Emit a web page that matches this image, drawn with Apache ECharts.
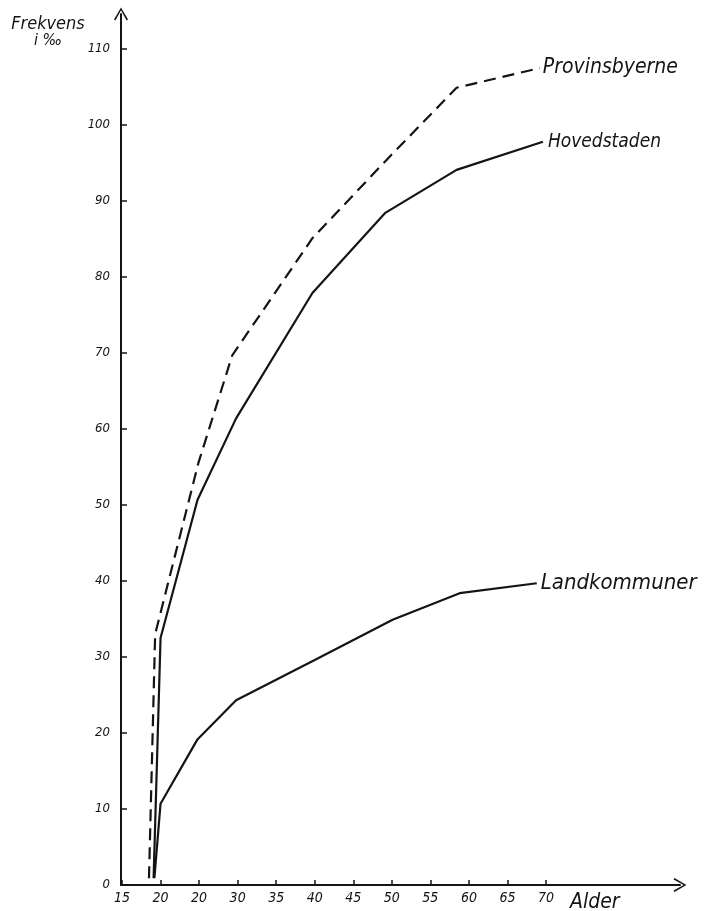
<!DOCTYPE html>
<html>
<head>
<meta charset="utf-8">
<script src="https://cdn.jsdelivr.net/npm/echarts@6/dist/echarts.min.js"></script>
<style>
  html, body { margin: 0; padding: 0; background: #ffffff; }
  #chart { width: 709px; height: 911px; }
</style>
</head>
<body>
<div id="chart"></div>
<script>
// Age (years) and frequency (per mille)
const provinsbyerne = [[18.5, 0.9], [19.3, 33.0], [24.9, 55.5], [29.3, 69.7], [39.7, 85.1], [49.5, 95.6], [58.4, 104.9], [69.2, 107.5]];
const hovedstaden   = [[19.1, 0.9], [20.0, 32.5], [24.8, 50.7], [29.8, 61.4], [39.7, 77.9], [49.1, 88.4], [58.4, 94.1], [69.6, 97.8]];
const landkommuner  = [[19.2, 0.9], [20.0, 10.7], [24.75, 19.1], [29.8, 24.3], [40.0, 29.6], [50.1, 34.9], [58.8, 38.4], [68.8, 39.7]];

const xTickLabels = ['15', '20', '20', '30', '35', '40', '45', '50', '55', '60', '65', '70'];
const yTickLabels = ['0', '10', '20', '30', '40', '50', '60', '70', '80', '90', '100', '110'];

const FONT = "'DejaVu Sans Condensed', 'DejaVu Sans', sans-serif";
const INK = '#141414';
const chevron = 'path://M0,12 L7,0 L14,12 L12.6,12.9 L7,2.8 L1.4,12.9 Z';

const chart = echarts.init(document.getElementById('chart'), null, { renderer: 'canvas' });

function seriesOf(name, data, dashed, dist, size) {
  return {
    name: name,
    type: 'line',
    xAxisIndex: 0,
    yAxisIndex: 0,
    data: data,
    symbol: 'none',
    clip: false,
    silent: true,
    lineStyle: { color: INK, width: 2.2, type: dashed ? [12, 7] : 'solid' },
    endLabel: {
      show: true,
      formatter: name,
      distance: dist,
      color: INK,
      fontFamily: FONT,
      fontStyle: 'italic',
      fontSize: size
    }
  };
}

chart.setOption({
  backgroundColor: '#ffffff',
  animation: false,
  title: {
    text: 'Frekvens',
    subtext: 'i ‰',
    left: 43,
    top: 10,
    textAlign: 'center',
    itemGap: 0,
    textStyle: { fontFamily: FONT, fontStyle: 'italic', fontWeight: 'normal', fontSize: 18, color: INK },
    subtextStyle: { fontFamily: FONT, fontStyle: 'italic', fontSize: 16, color: INK }
  },
  grid: [
    { left: 122, right: 163, top: 49, bottom: 26, outerBoundsMode: 'none', containLabel: false },
    { left: 121, right: 29, top: 14, bottom: 26, outerBoundsMode: 'none', containLabel: false }
  ],
  xAxis: [
    {
      gridIndex: 0,
      type: 'value',
      min: 15, max: 70, interval: 5,
      axisLine: { show: false },
      axisTick: { show: true, inside: true, length: 5, lineStyle: { color: INK, width: 1.5 } },
      splitLine: { show: false },
      axisLabel: {
        margin: 6,
        color: INK, fontFamily: FONT, fontStyle: 'italic', fontSize: 14,
        formatter: function (v) { return xTickLabels[Math.round((v - 15) / 5)] || ''; }
      },
      name: 'Alder',
      nameLocation: 'end',
      nameGap: 24,
      nameTextStyle: { fontFamily: FONT, fontStyle: 'italic', fontSize: 21, color: INK, verticalAlign: 'top', padding: [7, 0, 0, 0] }
    },
    {
      gridIndex: 1,
      type: 'value', min: 0, max: 1,
      axisLine: { show: true, symbol: ['none', chevron], symbolSize: [14, 13], lineStyle: { color: INK, width: 2 } },
      axisTick: { show: false }, axisLabel: { show: false }, splitLine: { show: false }
    }
  ],
  yAxis: [
    {
      gridIndex: 0,
      type: 'value',
      min: 0, max: 110, interval: 10,
      axisLine: { show: false },
      axisTick: { show: true, inside: true, length: 5, lineStyle: { color: INK, width: 1.5 } },
      splitLine: { show: false },
      axisLabel: {
        margin: 12,
        color: INK, fontFamily: FONT, fontStyle: 'italic', fontSize: 13,
        formatter: function (v) { return yTickLabels[Math.round(v / 10)] || ''; }
      }
    },
    {
      gridIndex: 1,
      type: 'value', min: 0, max: 1,
      axisLine: { show: true, symbol: ['none', chevron], symbolSize: [14, 13], lineStyle: { color: INK, width: 2 } },
      axisTick: { show: false }, axisLabel: { show: false }, splitLine: { show: false }
    }
  ],
  series: [
    seriesOf('Provinsbyerne', provinsbyerne, true, 3, 21),
    seriesOf('Hovedstaden', hovedstaden, false, 5, 19),
    seriesOf('Landkommuner', landkommuner, false, 4, 22)
  ]
});
</script>
</body>
</html>
